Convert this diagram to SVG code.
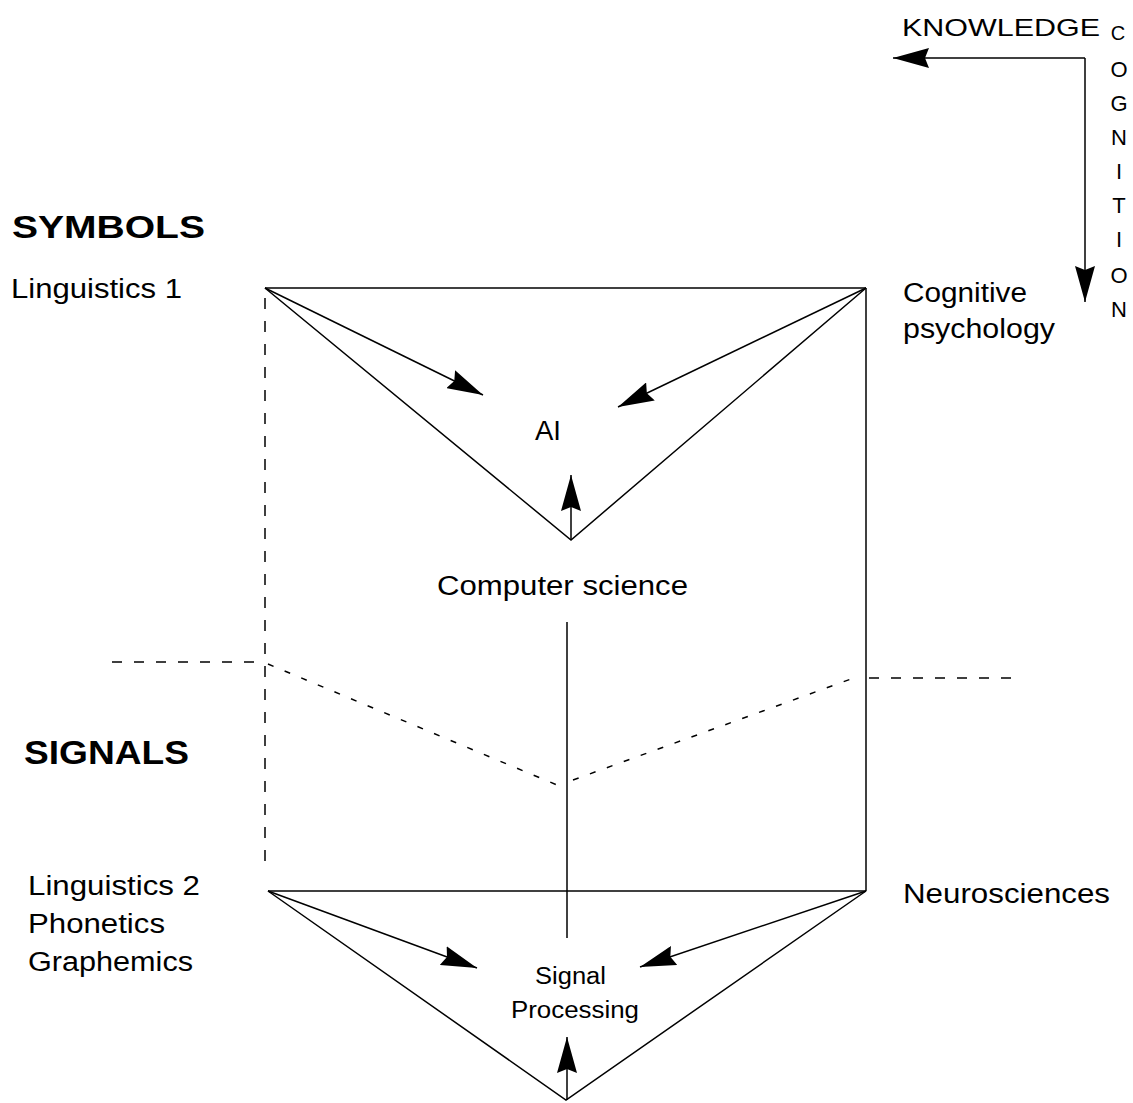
<svg xmlns="http://www.w3.org/2000/svg" width="1133" height="1103" viewBox="0 0 1133 1103">
  <style>
    text { font-family: "Liberation Sans", Arial, sans-serif; fill: #000; }
    .lbl { font-size: 27px; }
    .hdr { font-weight: bold; }
    .ln { stroke: #000; stroke-width: 1.5; fill: none; }
    .arr { stroke: #000; stroke-width: 1.5; fill: none; marker-end: url(#ah); }
    .dv { stroke: #000; stroke-width: 1.5; fill: none; stroke-dasharray: 11 12; }
    .dh { stroke: #000; stroke-width: 1.5; fill: none; stroke-dasharray: 10 12; }
    .dd { stroke: #000; stroke-width: 1.5; fill: none; stroke-dasharray: 6 12; }
    .cg { font-size: 22px; text-anchor: middle; }
  </style>
  <defs>
    <marker id="ah" markerUnits="userSpaceOnUse" markerWidth="36" markerHeight="20" refX="36" refY="10" orient="auto">
      <path d="M0,0 L36,10 L0,20 L4,10 z" fill="#000"/>
    </marker>
  </defs>
  <rect width="1133" height="1103" fill="#fff"/>

  <g id="connectors">
    <path class="arr" d="M1085,58 L893,58"/>
    <path class="arr" d="M1085,58 L1085,302"/>
    <path class="ln" d="M265,288 L866,288"/>
    <path class="ln" d="M265,288 L571,540 L866,288"/>
    <path class="arr" d="M265,288 L483,395"/>
    <path class="arr" d="M866,288 L618,407"/>
    <path class="arr" d="M571,540 L571,475"/>
    <path class="dv" d="M265,298 L265,872"/>
    <path class="ln" d="M866,288 L866,891"/>
    <path class="ln" d="M567,622 L567,938"/>
    <path class="dh" d="M112,662 L265,662"/>
    <path class="dd" d="M268,664 L557,785"/>
    <path class="dd" d="M573,780 L851,679"/>
    <path class="dh" d="M869,678 L1022,678"/>
    <path class="ln" d="M268,891 L866,891"/>
    <path class="ln" d="M268,891 L566,1100 L866,891"/>
    <path class="arr" d="M268,891 L477,968"/>
    <path class="arr" d="M866,891 L640,967"/>
    <path class="arr" d="M567,1100 L567,1037"/>
  </g>

  <g id="knowledge">
    <text x="902" y="36" font-size="24" textLength="198" lengthAdjust="spacingAndGlyphs">KNOWLEDGE</text>
  </g>
  <g id="cognition">
    <text x="1118" y="40" font-size="20" text-anchor="middle">C</text>
    <text class="cg" x="1119" y="77">O</text>
    <text class="cg" x="1119" y="111">G</text>
    <text class="cg" x="1119" y="145">N</text>
    <text class="cg" x="1119" y="179">I</text>
    <text class="cg" x="1119" y="213">T</text>
    <text class="cg" x="1119" y="247">I</text>
    <text class="cg" x="1119" y="283">O</text>
    <text class="cg" x="1119" y="317">N</text>
  </g>
  <g id="symbols">
    <text class="hdr" x="12" y="238" font-size="31" textLength="193" lengthAdjust="spacingAndGlyphs">SYMBOLS</text>
  </g>
  <g id="signals">
    <text class="hdr" x="24" y="764" font-size="34" textLength="165" lengthAdjust="spacingAndGlyphs">SIGNALS</text>
  </g>
  <g id="linguistics1">
    <text class="lbl" x="11" y="298" textLength="171" lengthAdjust="spacingAndGlyphs">Linguistics 1</text>
  </g>
  <g id="cognitive-psychology">
    <text class="lbl" x="903" y="302" textLength="124" lengthAdjust="spacingAndGlyphs">Cognitive</text>
    <text class="lbl" x="903" y="338" textLength="152" lengthAdjust="spacingAndGlyphs">psychology</text>
  </g>
  <g id="ai">
    <text x="535" y="440" font-size="28" textLength="26" lengthAdjust="spacingAndGlyphs">AI</text>
  </g>
  <g id="computer-science">
    <text class="lbl" x="437" y="595" textLength="251" lengthAdjust="spacingAndGlyphs">Computer science</text>
  </g>
  <g id="linguistics2">
    <text class="lbl" x="28" y="895" textLength="172" lengthAdjust="spacingAndGlyphs">Linguistics 2</text>
    <text class="lbl" x="28" y="933" textLength="137" lengthAdjust="spacingAndGlyphs">Phonetics</text>
    <text class="lbl" x="28" y="971" textLength="165" lengthAdjust="spacingAndGlyphs">Graphemics</text>
  </g>
  <g id="neurosciences">
    <text class="lbl" x="903" y="903" textLength="207" lengthAdjust="spacingAndGlyphs">Neurosciences</text>
  </g>
  <g id="signal-processing">
    <text x="535" y="984" font-size="23" textLength="71" lengthAdjust="spacingAndGlyphs">Signal</text>
    <text x="511" y="1018" font-size="23" textLength="128" lengthAdjust="spacingAndGlyphs">Processing</text>
  </g>
</svg>
